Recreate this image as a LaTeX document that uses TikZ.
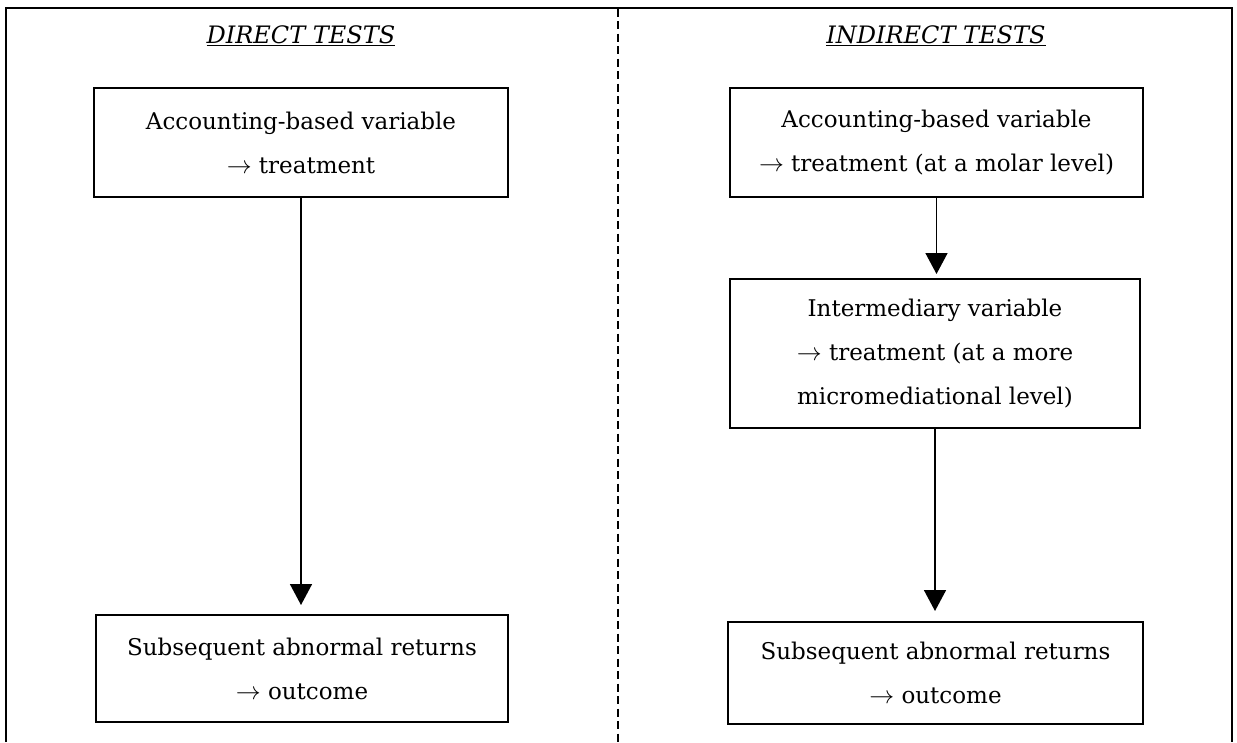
\documentclass[tikz,border=0pt]{standalone}
\usepackage{fontspec}
\setmainfont{DejaVu Serif}
\usetikzlibrary{arrows.meta,positioning}

\begin{document}
\begin{tikzpicture}[
  x=1pt, y=-1pt,
  testbox/.style={draw, line width=2pt, align=center, inner sep=0pt,
    font=\fontsize{23}{44}\selectfont},
  heading/.style={font=\fontsize{24}{26}\selectfont\itshape, inner sep=0pt, anchor=base},
  flow/.style={line width=1.6pt, -{Triangle[length=21pt,width=22pt]}}
  ]
  \useasboundingbox (0,0) rectangle (1237,742);
  % frame and divider
  \draw[line width=2pt] (6,742) -- (6,7.5) -- (1232,7.5) -- (1232,742);
  \coordinate (divtop) at (618,8.5);
  \coordinate (divbot) at (618,742);
  \draw[line width=2pt, dash pattern=on 8pt off 4.5pt] (divtop) -- (divbot);
  % headings
  \node[heading] (direct) at (301,43) {\underline{DIRECT TESTS}};
  \node[heading] (indirect) at (936,43) {\underline{INDIRECT TESTS}};
  % direct tests
  \node[testbox, minimum width=414pt, minimum height=109pt] (dacc) at (301,142.5)
    {Accounting-based variable\\$\rightarrow$ treatment};
  \node[testbox, minimum width=412pt, minimum height=107pt] (dret) at (302,668.5)
    {Subsequent abnormal returns\\$\rightarrow$ outcome};
  % indirect tests
  \node[testbox, minimum width=413pt, minimum height=109pt] (iacc) at (936.5,142.5)
    {Accounting-based variable\\$\rightarrow$ treatment (at a molar level)};
  \node[testbox, minimum width=410pt, minimum height=149pt] (imed) at (935,353.5)
    {Intermediary variable\\$\rightarrow$ treatment (at a more\\micromediational level)};
  \node[testbox, minimum width=415pt, minimum height=102pt] (iret) at (935.5,673)
    {Subsequent abnormal returns\\$\rightarrow$ outcome};
  \draw[flow, shorten >=9pt] (dacc) -- (dacc |- dret.north);
  \draw[flow, shorten >=4pt] (iacc) -- (iacc |- imed.north);
  \draw[flow, shorten >=10pt] (imed) -- (imed |- iret.north);
\end{tikzpicture}
\end{document}
